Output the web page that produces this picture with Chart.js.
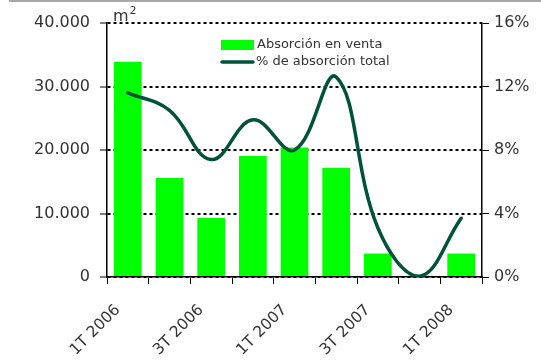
<!DOCTYPE html>
<html>
<head>
<meta charset="utf-8">
<script src="https://cdn.jsdelivr.net/npm/chart.js@4/dist/chart.umd.min.js"></script>
<style>
  html, body { margin: 0; padding: 0; background: #fff; }
  #wrap { position: relative; width: 541px; height: 361px; }
  #topRule { position: absolute; left: 9px; top: 0; width: 532px; height: 2px; background: #a8a8a8; }
  canvas { position: absolute; left: 0; top: 0; }
</style>
</head>
<body>
<div id="wrap">
  <canvas id="chart" width="541" height="361"></canvas>
  <div id="topRule"></div>
</div>
<script>
// Quarterly absorption figures
const quarters = ['1T 2006', '2T 2006', '3T 2006', '4T 2006', '1T 2007', '2T 2007', '3T 2007', '4T 2007', '1T 2008'];
const absorcionVenta = [33900, 15600, 9300, 19050, 20400, 17200, 3700, 200, 3700];   // m²
const absorcionTotalPct = [11.6, 10.5, 7.4, 9.9, 8.0, 12.6, 3.1, 0.05, 3.7];          // %
const leftTicks = [0, 10000, 20000, 30000, 40000];
const rightTicks = [0, 4, 8, 12, 16];

const FONT = "'DejaVu Sans', sans-serif";
const TEXT = '#333333';
const BAR_GREEN = '#00ff00';
const LINE_GREEN = '#00533a';

const thousands = v => String(v).replace(/\B(?=(\d{3})+(?!\d))/g, '.');

// Legend drawn inside the plot area, plus the unit label above the left axis
const overlay = {
  id: 'overlay',
  afterDraw(chart) {
    const { ctx, chartArea: a } = chart;
    ctx.save();
    // unit label
    ctx.fillStyle = TEXT;
    ctx.textBaseline = 'alphabetic';
    ctx.textAlign = 'left';
    ctx.font = `16px ${FONT}`;
    ctx.fillText('m', a.left + 6, a.top - 2);
    const mw = ctx.measureText('m').width;
    ctx.font = `11px ${FONT}`;
    ctx.fillText('2', a.left + 7 + mw, a.top - 9);

    // legend
    const lx = a.left + 114, ly = a.top + 22;
    const ds = chart.data.datasets;
    ctx.fillStyle = ds[0].backgroundColor;
    ctx.fillRect(lx, ly - 5, 33, 10);
    ctx.strokeStyle = ds[1].borderColor;
    ctx.lineWidth = 3.5;
    ctx.lineCap = 'round';
    ctx.beginPath();
    ctx.moveTo(lx + 1, ly + 17);
    ctx.lineTo(lx + 32, ly + 17);
    ctx.stroke();
    ctx.fillStyle = TEXT;
    ctx.font = `13px ${FONT}`;
    ctx.textBaseline = 'middle';
    ctx.fillText(ds[0].label, lx + 36, ly);
    ctx.fillText(ds[1].label, lx + 35, ly + 17);
    ctx.restore();
  }
};

new Chart(document.getElementById('chart'), {
  data: {
    labels: quarters,
    datasets: [
      {
        type: 'bar',
        label: 'Absorción en venta',
        data: absorcionVenta,
        backgroundColor: BAR_GREEN,
        borderWidth: 0,
        yAxisID: 'y',
        categoryPercentage: 1,
        barPercentage: 0.665,
        order: 2
      },
      {
        type: 'line',
        label: '% de absorción total',
        data: absorcionTotalPct,
        borderColor: LINE_GREEN,
        borderWidth: 3.5,
        borderCapStyle: 'round',
        pointRadius: 0,
        tension: 0.4,
        fill: false,
        yAxisID: 'y1',
        order: 1
      }
    ]
  },
  options: {
    responsive: false,
    animation: false,
    layout: { padding: { top: 23, left: 0, right: 0, bottom: 0 } },
    plugins: {
      legend: { display: false },
      tooltip: { enabled: false }
    },
    scales: {
      x: {
        offset: true,
        grid: {
          offset: true,
          drawOnChartArea: false,
          drawTicks: true,
          tickLength: 7,
          tickColor: '#000',
          tickWidth: 1
        },
        border: { display: true, color: '#000', width: 1.5 },
        ticks: {
          autoSkip: false,
          maxRotation: 45,
          minRotation: 45,
          padding: 17,
          labelOffset: -10,
          color: TEXT,
          font: { family: FONT, size: 15.5 },
          callback(v, i) { return i % 2 === 0 ? quarters[i] : ''; }
        },
        afterFit(s) { s.height = 84; }
      },
      y: {
        position: 'left',
        min: leftTicks[0],
        max: leftTicks[leftTicks.length - 1],
        afterBuildTicks(s) { s.ticks = leftTicks.map(v => ({ value: v })); },
        grid: {
          color: '#000',
          lineWidth: 2,
          drawTicks: true,
          tickLength: 7,
          tickColor: '#000',
          tickWidth: 1,
          tickBorderDash: []
        },
        border: { display: true, color: '#000', width: 1.5, dash: [3, 3] },
        ticks: {
          color: TEXT,
          padding: 10,
          font: { family: FONT, size: 16 },
          callback: v => thousands(v)
        },
        afterFit(s) { s.width = 107; }
      },
      y1: {
        position: 'right',
        min: rightTicks[0],
        max: rightTicks[rightTicks.length - 1],
        afterBuildTicks(s) { s.ticks = rightTicks.map(v => ({ value: v })); },
        grid: {
          drawOnChartArea: false,
          drawTicks: true,
          tickLength: 7,
          tickColor: '#000',
          tickWidth: 1
        },
        border: { display: true, color: '#000', width: 1.5 },
        ticks: {
          color: TEXT,
          padding: 5,
          font: { family: FONT, size: 16 },
          callback: v => v + '%'
        },
        afterFit(s) { s.width = 59; }
      }
    }
  },
  plugins: [overlay]
});
</script>
</body>
</html>
